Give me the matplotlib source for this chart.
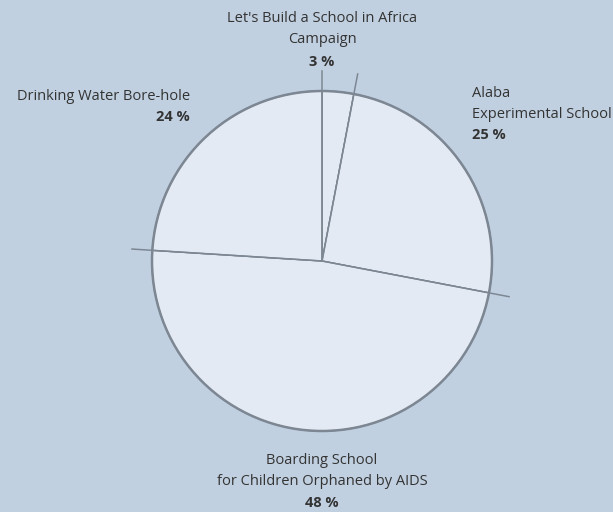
import numpy as np
import matplotlib.pyplot as plt

# projects and their share of the donations (%)
projects = ["Let's Build a School in Africa\nCampaign",
            "Alaba\nExperimental School",
            "Boarding School\nfor Children Orphaned by AIDS",
            "Drinking Water Bore-hole"]
shares = [3, 25, 48, 24]

bg = '#c1d0e0'
fill = '#e3eaf3'
edge = '#7d8793'
txt = '#333333'

plt.rcParams['font.family'] = ['Open Sans', 'DejaVu Sans']

fig = plt.figure(figsize=(6.13, 5.12), dpi=100)
fig.patch.set_facecolor(bg)
ax = fig.add_axes([0, 0, 1, 1])
ax.set_facecolor(bg)

cx, cy, r = 322, 251, 170
wedges, _ = ax.pie(shares, startangle=90, counterclock=False, radius=r, center=(cx, cy),
                   colors=[fill] * len(shares),
                   wedgeprops=dict(edgecolor=edge, linewidth=1.0))
ax.set_xlim(0, 613)
ax.set_ylim(0, 512)
ax.set_aspect('equal')
ax.axis('off')

# outer circle outline a bit heavier
circ = plt.Circle((cx, cy), r, fill=False, edgecolor=edge, linewidth=1.8, zorder=3)
ax.add_patch(circ)

# separator lines running past the rim
bounds = 90 - 360 * np.cumsum([0] + shares[:-1]) / sum(shares)
for a in np.radians(bounds):
    ax.plot([cx, cx + 1.12 * r * np.cos(a)], [cy, cy + 1.12 * r * np.sin(a)],
            color=edge, lw=1.1, zorder=4)

fs = 10.5
ls = 1.5
# label positions in pixels (y measured from top)
ax.text(322, 512 - 29, projects[0], ha='center', va='center', fontsize=fs, color=txt, linespacing=ls)
ax.text(322, 512 - 62, f"{shares[0]} %", ha='center', va='center', fontsize=fs, color=txt, fontweight='bold')

ax.text(472, 512 - 104, projects[1], ha='left', va='center', fontsize=fs, color=txt, linespacing=ls)
ax.text(472, 512 - 135, f"{shares[1]} %", ha='left', va='center', fontsize=fs, color=txt, fontweight='bold')

ax.text(322, 512 - 471, projects[2], ha='center', va='center', fontsize=fs, color=txt, linespacing=ls)
ax.text(322, 512 - 503, f"{shares[2]} %", ha='center', va='center', fontsize=fs, color=txt, fontweight='bold')

ax.text(190, 512 - 97, projects[3], ha='right', va='center', fontsize=fs, color=txt)
ax.text(190, 512 - 117, f"{shares[3]} %", ha='right', va='center', fontsize=fs, color=txt, fontweight='bold')

fig.savefig('out.png', dpi=100, facecolor=bg)
